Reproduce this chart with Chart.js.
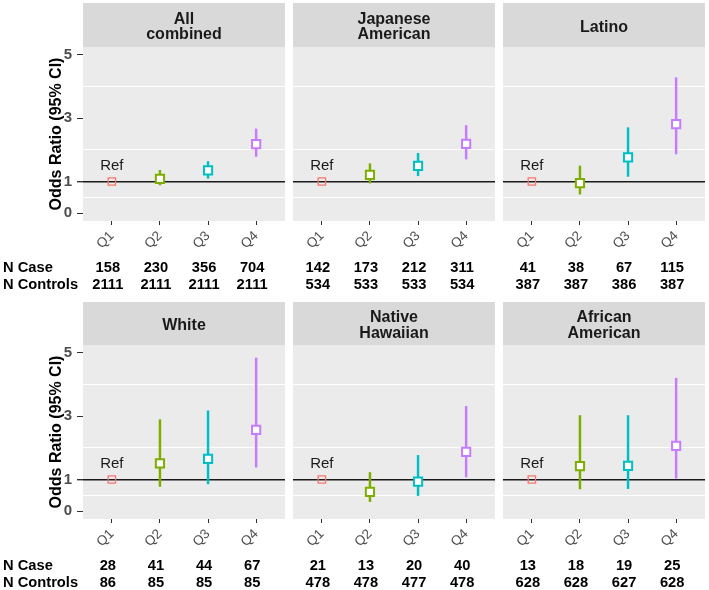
<!DOCTYPE html>
<html>
<head>
<meta charset="utf-8">
<script src="https://cdn.jsdelivr.net/npm/chart.js@4.4.0/dist/chart.umd.min.js"></script>
<style>
  body { margin: 0; background: #fff; }
  #wrap { position: relative; width: 709px; height: 590px; overflow: hidden; }
  #wrap canvas { position: absolute; }
</style>
</head>
<body>
<div id="wrap"></div>
<script>
// values
const quartiles = ['Q1', 'Q2', 'Q3', 'Q4'];
const groups = ['All\ncombined', 'Japanese\nAmerican', 'Latino', 'White', 'Native\nHawaiian', 'African\nAmerican'];

const oddsRatio = [
    [1, 1.08, 1.35, 2.18],
    [1, 1.21, 1.49, 2.19],
    [1, 0.95, 1.76, 2.81],
    [1, 1.51, 1.65, 2.57],
    [1, 0.61, 0.93, 1.87],
    [1, 1.42, 1.43, 2.06]
];
const ciLow = [
    [null, 0.89, 1.10, 1.79],
    [null, 0.95, 1.18, 1.71],
    [null, 0.60, 1.16, 1.87],
    [null, 0.78, 0.86, 1.39],
    [null, 0.30, 0.49, 1.08],
    [null, 0.70, 0.71, 1.04]
];
const ciHigh = [
    [null, 1.35, 1.63, 2.66],
    [null, 1.56, 1.89, 2.77],
    [null, 1.49, 2.70, 4.28],
    [null, 2.89, 3.17, 4.84],
    [null, 1.22, 1.76, 3.31],
    [null, 3.02, 3.02, 4.20]
];
const nCase = [
    [158, 230, 356, 704],
    [142, 173, 212, 311],
    [41, 38, 67, 115],
    [28, 41, 44, 67],
    [21, 13, 20, 40],
    [13, 18, 19, 25]
];
const nControls = [
    [2111, 2111, 2111, 2111],
    [534, 533, 533, 534],
    [387, 387, 386, 387],
    [86, 85, 85, 85],
    [478, 478, 477, 478],
    [628, 628, 627, 628]
];
const yLabels = [0, 1, 3, 5];
const yMinor = [0.5, 2, 4];
const refValue = 1;

const colors = ['#F8766D', '#7CAE00', '#00BFC4', '#C77CFF'];
const FONT = '"Liberation Sans", Arial, Helvetica, sans-serif';
Chart.defaults.font.family = FONT;

// layout
const colLeft = [83, 293, 503];
const panelW = 202;
const panelH = 174;
const rowTop = [0, 295];
const rowH = 295;
const stripTop = [3, 7];
const panelTop = [47, 50];
const nCaseBase = [272, 274.6];
const nCtrlBase = [288.6, 291.6];

const facetPlugin = {
    id: 'facet',
    beforeDraw(chart, args, opts) {
        const ctx = chart.ctx;
        const a = chart.chartArea;
        const st = stripTop[opts.row];
        ctx.save();
        ctx.fillStyle = '#ebebeb';
        ctx.fillRect(a.left, a.top, a.right - a.left, a.bottom - a.top);
        ctx.fillStyle = '#d9d9d9';
        ctx.fillRect(a.left, st, a.right - a.left, a.top - st);

        var lines = groups[opts.index].split('\n');
        ctx.fillStyle = '#1a1a1a';
        ctx.font = 'bold 16px ' + FONT;
        ctx.textAlign = 'center';
        ctx.textBaseline = 'alphabetic';
        var cy = (st + a.top) / 2 + 6.7;
        lines.forEach(function (t, k) {
            ctx.fillText(t, (a.left + a.right) / 2, cy + (k - (lines.length - 1) / 2) * 15.5);
        });
        ctx.restore();
    },
    afterDraw(chart, args, opts) {
        const ctx = chart.ctx;
        const xs = chart.scales.x;
        const ys = chart.scales.y;
        const g = opts.index;
        ctx.save();
        // "Ref" label above Q1
        ctx.fillStyle = '#1a1a1a';
        ctx.font = '15px ' + FONT;
        ctx.textAlign = 'center';
        ctx.textBaseline = 'middle';
        ctx.fillText('Ref', xs.getPixelForValue(1), ys.getPixelForValue(oddsRatio[g][0]) - 15.5);

        // counts under the axis
        ctx.fillStyle = '#000';
        ctx.font = 'bold 14.7px ' + FONT;
        ctx.textBaseline = 'alphabetic';
        quartiles.forEach(function (q, i) {
            var x = xs.getPixelForValue(i + 1) - 4;
            ctx.fillText(String(nCase[g][i]), x, nCaseBase[opts.row]);
            ctx.fillText(String(nControls[g][i]), x, nCtrlBase[opts.row]);
        });
        if (opts.first) {
            ctx.textAlign = 'left';
            ctx.fillText('N Case', 3, nCaseBase[opts.row]);
            ctx.fillText('N Controls', 3, nCtrlBase[opts.row]);
        }
        ctx.restore();
    }
};

function makePanel(g) {
    var row = Math.floor(g / 3);
    var col = g % 3;
    var first = col === 0;
    var left = first ? 0 : colLeft[col];
    var canvas = document.createElement('canvas');
    canvas.width = colLeft[col] + panelW - left;
    canvas.height = rowH;
    canvas.style.left = left + 'px';
    canvas.style.top = rowTop[row] + 'px';
    document.getElementById('wrap').appendChild(canvas);

    var bars = [];
    quartiles.forEach(function (q, i) {
        if (ciLow[g][i] != null) bars.push({ x: i + 1, y: [ciLow[g][i], ciHigh[g][i]] });
    });
    var points = quartiles.map(function (q, i) { return { x: i + 1, y: oddsRatio[g][i] }; });

    new Chart(canvas, {
        type: 'bar',
        data: {
            datasets: [{
                type: 'bar',
                data: bars,
                backgroundColor: function (c) { return colors[c.raw.x - 1]; },
                barThickness: 1.8,
                borderWidth: 0,
                order: 2
            }, {
                type: 'scatter',
                data: points,
                pointStyle: 'rect',
                pointRadius: [5.2, 5.8, 5.8, 5.8],
                pointBorderWidth: [1.3, 2, 2, 2],
                pointBackgroundColor: ['rgba(0,0,0,0)', '#fff', '#fff', '#fff'],
                pointBorderColor: colors,
                order: 1
            }]
        },
        options: {
            responsive: false,
            animation: false,
            events: [],
            layout: {
                autoPadding: false,
                padding: { left: first ? 43 : 0, top: panelTop[row], right: 0, bottom: 0 }
            },
            plugins: {
                legend: { display: false },
                tooltip: { enabled: false },
                facet: { index: g, row: row, first: first }
            },
            scales: {
                x: {
                    type: 'linear',
                    min: 0.4,
                    max: 4.6,
                    offset: false,
                    afterBuildTicks: function (s) {
                        s.ticks = quartiles.map(function (q, i) { return { value: i + 1 }; });
                    },
                    afterFit: function (s) {
                        s.height = rowH - panelTop[row] - panelH;
                        s.paddingLeft = 0;
                        s.paddingRight = 0;
                    },
                    border: { display: false },
                    grid: { drawOnChartArea: false, offset: false, tickLength: 4, tickColor: '#333' },
                    ticks: {
                        minRotation: 45,
                        maxRotation: 45,
                        autoSkip: false,
                        color: '#4d4d4d',
                        font: { size: 13.5 },
                        callback: function (v) { return quartiles[v - 1]; }
                    }
                },
                y: {
                    min: -0.25,
                    max: 5.25,
                    afterBuildTicks: function (s) {
                        s.ticks = yLabels.concat(yMinor).sort(function (a, b) { return a - b; })
                            .map(function (v) { return { value: v }; });
                    },
                    afterFit: function (s) {
                        s.width = first ? 40 : 0;
                        s.paddingTop = 0;
                        s.paddingBottom = 0;
                    },
                    border: { display: false },
                    grid: {
                        color: function (c) {
                            if (c.tick.value === refValue) return '#1a1a1a';
                            return yMinor.includes(c.tick.value) ? '#ffffff' : 'rgba(0,0,0,0)';
                        },
                        lineWidth: function (c) { return c.tick.value === refValue ? 1.4 : 1; },
                        drawTicks: first,
                        tickLength: 6,
                        tickColor: function (c) {
                            return yMinor.includes(c.tick.value) ? 'rgba(0,0,0,0)' : '#333';
                        }
                    },
                    ticks: {
                        display: first,
                        padding: 5,
                        color: '#4d4d4d',
                        font: { size: 15, weight: 'bold' },
                        callback: function (v) { return yLabels.includes(v) ? String(v) : ''; }
                    },
                    title: {
                        display: first,
                        text: 'Odds Ratio (95% CI)',
                        color: '#000',
                        font: { size: 16, weight: 'bold' }
                    }
                }
            }
        },
        plugins: [facetPlugin]
    });
}

groups.forEach(function (name, g) { makePanel(g); });
</script>
</body>
</html>
